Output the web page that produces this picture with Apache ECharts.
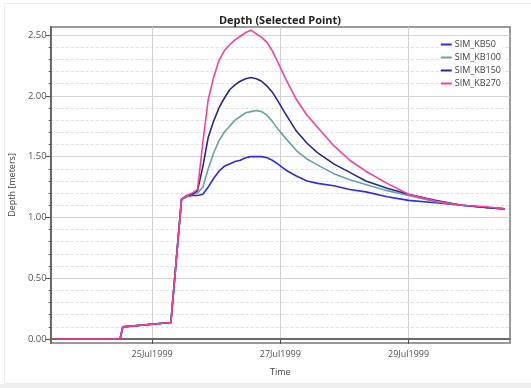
<!DOCTYPE html>
<html>
<head>
<meta charset="utf-8">
<title>Depth (Selected Point)</title>
<script src="https://cdn.jsdelivr.net/npm/echarts@6/dist/echarts.min.js"></script>
<style>
  html, body { margin: 0; padding: 0; background: #fff; }
  #chart { width: 531px; height: 388px; }
</style>
</head>
<body>
<div id="chart"></div>
<script>
// Simulation output times (shared by all runs)
const times = [
  '1999-07-23 12:00', '1999-07-24 12:00', '1999-07-24 13:00', '1999-07-25 07:00',
  '1999-07-25 11:00', '1999-07-25 13:00', '1999-07-25 15:00', '1999-07-25 17:00',
  '1999-07-25 19:00', '1999-07-25 21:00', '1999-07-25 23:00', '1999-07-26 01:00',
  '1999-07-26 03:00', '1999-07-26 05:00', '1999-07-26 07:00', '1999-07-26 09:00',
  '1999-07-26 11:00', '1999-07-26 13:00', '1999-07-26 15:00', '1999-07-26 17:00',
  '1999-07-26 19:00', '1999-07-26 21:00', '1999-07-26 23:00', '1999-07-27 02:00',
  '1999-07-27 06:00', '1999-07-27 10:00', '1999-07-27 14:00', '1999-07-27 20:00',
  '1999-07-28 02:00', '1999-07-28 08:00', '1999-07-28 16:00', '1999-07-29 00:00',
  '1999-07-29 10:00', '1999-07-29 20:00', '1999-07-30 06:00', '1999-07-30 12:00'
];

// Depth at the selected point, metres
const kb50 = [
  0, 0, 0.10, 0.135, 1.15, 1.17, 1.18, 1.18, 1.19, 1.25, 1.32, 1.38,
  1.42, 1.44, 1.46, 1.47, 1.49, 1.50, 1.50, 1.50, 1.49, 1.47, 1.44, 1.39,
  1.34, 1.30, 1.28, 1.26, 1.23, 1.21, 1.17, 1.14, 1.12, 1.10, 1.08, 1.07
];
const kb100 = [
  0, 0, 0.10, 0.135, 1.15, 1.17, 1.19, 1.20, 1.25, 1.40, 1.53, 1.63,
  1.70, 1.75, 1.80, 1.83, 1.86, 1.87, 1.88, 1.87, 1.84, 1.79, 1.73, 1.65,
  1.55, 1.48, 1.43, 1.36, 1.31, 1.27, 1.22, 1.18, 1.13, 1.10, 1.08, 1.07
];
const kb150 = [
  0, 0, 0.10, 0.135, 1.15, 1.18, 1.19, 1.22, 1.42, 1.66, 1.79, 1.90,
  1.98, 2.05, 2.09, 2.12, 2.14, 2.15, 2.14, 2.12, 2.08, 2.03, 1.96, 1.85,
  1.71, 1.61, 1.53, 1.44, 1.37, 1.30, 1.24, 1.19, 1.14, 1.10, 1.08, 1.07
];
const kb270 = [
  0, 0, 0.10, 0.135, 1.15, 1.18, 1.20, 1.23, 1.62, 1.97, 2.15, 2.29,
  2.37, 2.42, 2.46, 2.49, 2.52, 2.54, 2.51, 2.48, 2.44, 2.37, 2.28, 2.14,
  1.97, 1.84, 1.74, 1.59, 1.47, 1.38, 1.28, 1.19, 1.135, 1.10, 1.085, 1.07
];

const seriesNames = ['SIM_KB50', 'SIM_KB100', 'SIM_KB150', 'SIM_KB270'];
const seriesColors = ['#2b2bf2', '#62a5a2', '#27278f', '#ff3c9c'];

// Axis ticks
const dateTicks = ['1999-07-25', '1999-07-27', '1999-07-29'];
const depthMajor = [0, 0.5, 1.0, 1.5, 2.0, 2.5];
const depthMinor = [0.1, 0.2, 0.3, 0.4, 0.6, 0.7, 0.8, 0.9, 1.1, 1.2, 1.3, 1.4,
                    1.6, 1.7, 1.8, 1.9, 2.1, 2.2, 2.3, 2.4];

const yMin = -0.033, yMax = 2.566;
const font = '"Open Sans", "Noto Sans", sans-serif';

const dateTickValues = dateTicks.map(d => echarts.time.parse(d).getTime());
const allSeries = [kb50, kb100, kb150, kb270];

const chart = echarts.init(document.getElementById('chart'), null, { renderer: 'canvas' });

chart.setOption({
  animation: false,
  backgroundColor: '#fff',
  textStyle: { fontFamily: font },
  graphic: [
    { type: 'rect', silent: true, z: -10,
      shape: { x: 4.5, y: 3.5, width: 540, height: 380 },
      style: { fill: 'none', stroke: '#ececec', lineWidth: 1 } },
    { type: 'rect', silent: true, z: -10,
      shape: { x: 0, y: 384, width: 531, height: 4 },
      style: { fill: '#efefef' } }
  ],
  title: {
    text: 'Depth (Selected Point)',
    left: 275, top: 10, textAlign: 'center',
    textStyle: { fontFamily: font, fontSize: 11, fontWeight: 'bold', color: '#222' }
  },
  legend: {
    orient: 'vertical',
    right: 28, top: 39,
    icon: 'rect', itemWidth: 11, itemHeight: 2, itemGap: 4,
    padding: [1, 2],
    backgroundColor: 'rgba(255,255,255,0.85)',
    textStyle: { fontFamily: font, fontSize: 9, color: '#444', padding: [0, 0, 0, -2] },
    data: seriesNames
  },
  grid: {
    left: 48, right: 21, top: 27, bottom: 45,
    show: true, borderColor: '#7a7a7a', borderWidth: 1.5
  },
  xAxis: {
    type: 'time',
    min: '1999-07-23 10:00', max: '1999-07-30 14:00',
    name: 'Time', nameLocation: 'middle', nameGap: 25,
    nameTextStyle: { fontFamily: font, fontSize: 9, color: '#444' },
    axisLine: { show: true, lineStyle: { color: '#6a6a6a', width: 2 } },
    axisTick: { show: true, customValues: dateTickValues, length: 5,
                lineStyle: { color: '#555', width: 1 } },
    axisLabel: { customValues: dateTickValues, formatter: '{dd}{MMM}{yyyy}',
                 fontFamily: font, fontSize: 9, color: '#555', margin: 7 },
    splitLine: { show: true, lineStyle: { color: '#d0d0d0', width: 1 } }
  },
  yAxis: [
    {
      type: 'value', min: yMin, max: yMax, position: 'left',
      name: 'Depth [meters]', nameLocation: 'middle', nameGap: 23, nameRotate: 90,
      nameTextStyle: { fontFamily: font, fontSize: 9, color: '#444' },
      axisLine: { show: true, lineStyle: { color: '#6a6a6a', width: 2 } },
      axisTick: { show: true, customValues: depthMajor, length: 5,
                  lineStyle: { color: '#555', width: 1 } },
      axisLabel: { customValues: depthMajor, formatter: v => v.toFixed(2),
                   fontFamily: font, fontSize: 9.5, color: '#555', margin: 4 },
      splitLine: { show: true, lineStyle: { color: '#d4d4d4', width: 1 } }
    },
    {
      type: 'value', min: yMin, max: yMax, position: 'left', offset: 0,
      axisLine: { show: false },
      axisTick: { show: true, customValues: depthMinor, length: 2,
                  lineStyle: { color: '#555', width: 1 } },
      axisLabel: { show: false, customValues: depthMinor },
      splitLine: { show: true, lineStyle: { color: '#e0e0e0', width: 1, type: [3, 2] } }
    }
  ],
  series: seriesNames.map((name, i) => ({
    name: name,
    type: 'line',
    yAxisIndex: 0,
    data: times.map((t, k) => [t, allSeries[i][k]]),
    showSymbol: false,
    smooth: false,
    color: seriesColors[i],
    lineStyle: { width: 1.6, color: seriesColors[i], join: 'round' },
    z: 2 + i
  }))
});
</script>
</body>
</html>
